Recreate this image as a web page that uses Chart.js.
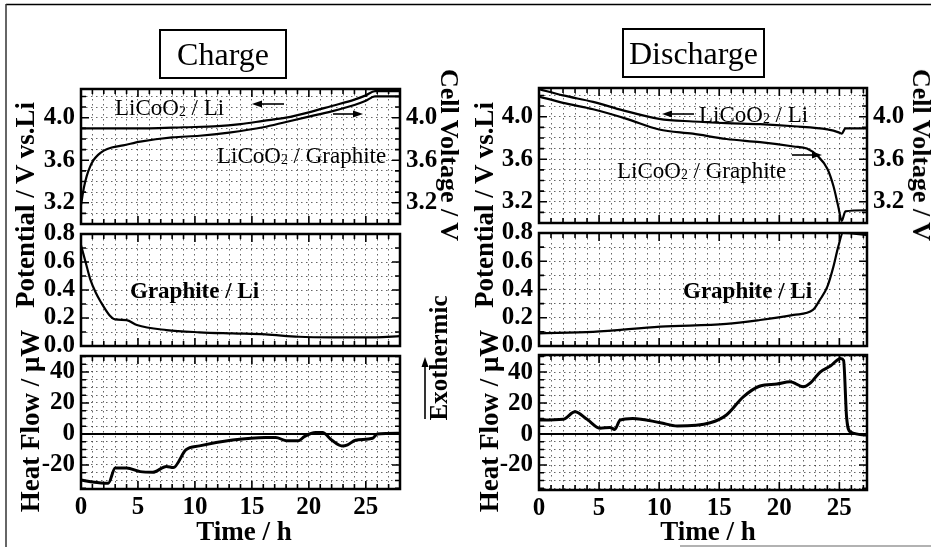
<!DOCTYPE html>
<html><head><meta charset="utf-8">
<script src="https://cdn.jsdelivr.net/npm/chart.js@4.4.1/dist/chart.umd.min.js"></script>
<style>
html,body{margin:0;padding:0;background:#fff;}
#wrap{position:relative;width:931px;height:547px;overflow:hidden;background:#fff;font-family:'Liberation Serif','Times New Roman',serif;color:#000;}
canvas{position:absolute;left:0;top:0;}
.t{position:absolute;white-space:nowrap;line-height:1;}
.box{position:absolute;border:2px solid #000;box-sizing:border-box;display:flex;align-items:center;justify-content:center;font-size:32px;line-height:1;}
sub{font-size:0.6em;vertical-align:-0.12em;line-height:0;}
svg{position:absolute;left:0;top:0;}
</style></head><body><div id="wrap">
<canvas id="c1" width="931" height="547"></canvas>
<canvas id="c2" width="931" height="547"></canvas>
<canvas id="c3" width="931" height="547"></canvas>
<canvas id="c4" width="931" height="547"></canvas>
<canvas id="c5" width="931" height="547"></canvas>
<canvas id="c6" width="931" height="547"></canvas>
</div>
<script>
// ---------- DATA ----------
// Charge: LiCoO2 / Li (left axis)
const chgCathodeT = [0, 3, 6, 9, 12, 14, 16, 18, 20, 22, 24, 25, 25.8, 26.5, 28];
const chgCathodeV = [3.90, 3.90, 3.90, 3.91, 3.92, 3.94, 3.97, 4.00, 4.05, 4.11, 4.17, 4.21, 4.25, 4.25, 4.25];
// Charge: LiCoO2 / Graphite cell voltage (right axis)
const chgCellT = [0, 0.25, 0.5, 0.8, 1.1, 1.5, 2.0, 2.7, 3.7, 5.2, 8, 10.4, 13, 16, 18, 20, 22, 24, 25, 25.8, 28];
const chgCellV = [3.18, 3.34, 3.45, 3.54, 3.60, 3.65, 3.69, 3.72, 3.74, 3.775, 3.815, 3.83, 3.86, 3.91, 3.96, 4.01, 4.06, 4.12, 4.16, 4.20, 4.20];
// Charge: Graphite / Li
const chgAnodeT = [0, 0.4, 0.8, 1.3, 1.7, 2.5, 3.0, 4.0, 4.9, 7.5, 10.4, 13.3, 16.2, 19.1, 22, 25.9, 28];
const chgAnodeV = [0.72, 0.60, 0.48, 0.38, 0.32, 0.22, 0.19, 0.185, 0.15, 0.114, 0.098, 0.09, 0.083, 0.066, 0.062, 0.062, 0.07];
// Charge: heat flow
const chgHeatT = [0, 1.0, 2.4, 3.0, 4.0, 5.2, 6.3, 7.5, 8.1, 9.2, 10.4, 13.3, 16.2, 17.1, 18.0, 19.1, 19.6, 20.6, 21.2, 22.0, 22.9, 23.4, 24.1, 25.6, 26.0, 28];
const chgHeatQ = [-29.7, -31, -31.8, -22, -22, -24.3, -24.7, -21, -21.7, -10.3, -7.7, -3.9, -2.2, -2.2, -4.3, -4.3, -1.7, 0.9, 0.9, -3.9, -7.7, -7, -4, -2.8, 0, 0.5];

// Discharge: LiCoO2 / Li
const disCathodeT = [0, 2, 4.5, 7, 10, 12.8, 15.6, 18.4, 21.2, 24, 25.0, 25.2, 25.5, 27.3];
const disCathodeV = [4.26, 4.20, 4.14, 4.06, 3.98, 3.955, 3.94, 3.93, 3.91, 3.88, 3.85, 3.84, 3.89, 3.89];
// Discharge: LiCoO2 / Graphite cell voltage
const disCellT = [0, 2, 4.5, 7.3, 10, 12.8, 15.6, 18.4, 21.2, 22.3, 23.2, 24, 24.5, 24.9, 25.2, 25.5, 27.3];
const disCellV = [4.19, 4.13, 4.07, 3.98, 3.88, 3.84, 3.79, 3.76, 3.72, 3.70, 3.63, 3.51, 3.35, 3.16, 3.02, 3.11, 3.12];
// Discharge: Graphite / Li
const disAnodeT = [0, 4.5, 10.1, 15.6, 18.4, 21.2, 22.8, 23.4, 24, 24.5, 24.9, 25.3, 27.3];
const disAnodeV = [0.09, 0.10, 0.137, 0.156, 0.184, 0.22, 0.255, 0.33, 0.42, 0.56, 0.70, 0.80, 0.785];
// Discharge: heat flow
const disHeatT = [0, 2, 3, 4, 5.1, 5.9, 6.3, 6.75, 7.8, 10.1, 11.5, 14.25, 15.6, 17, 18.4, 19.8, 20.9, 22, 22.6, 23.4, 24.25, 25.1, 25.35, 25.6, 25.9, 27.3];
const disHeatQ = [9, 9.5, 14.4, 9.5, 3.7, 4.3, 3.0, 9, 10.1, 7.3, 5.2, 7.3, 12.3, 24, 31, 32.3, 33.7, 30.5, 33, 40, 43.9, 48.8, 47.5, 11, 1.5, -0.6];

// Ticks / grids
const timeGridChg = [0,1,2,3,4,5,6,7,8,9,10,11,12,13,14,15,16,17,18,19,20,21,22,23,24,25,26,27,28];
const timeGridDis = [0,1,2,3,4,5,6,7,8,9,10,11,12,13,14,15,16,17,18,19,20,21,22,23,24,25,26,27];
const timeLabels = [0, 5, 10, 15, 20, 25];
const voltGrid = [3.1,3.2,3.3,3.4,3.5,3.6,3.7,3.8,3.9,4.0,4.1,4.2];
const voltLabels = [3.2, 3.6, 4.0];
const anodeGrid = [0,0.1,0.2,0.3,0.4,0.5,0.6,0.7,0.8];
const anodeLabels = [0, 0.2, 0.4, 0.6, 0.8];
const heatGrid = [-35,-30,-25,-20,-15,-10,-5,0,5,10,15,20,25,30,35,40,45,50];
const heatLabels = [-20, 0, 20, 40];

// ---------- DRAWING ----------
const W = 931, H = 547;
const GRID = 'rgba(0,0,0,0.6)';
const DASH = [1.5, 3.5];
const TICKFONT = {family: "'Liberation Serif', serif", size: 25, weight: 'bold'};
const has = (arr, v) => arr.some(a => Math.abs(a - v) < 1e-6);
const pts = (t, v) => t.map((x, i) => ({x: x, y: v[i]}));

const frameTicks = {
  id: 'frameTicks',
  beforeDatasetsDraw(chart, args, o) {
    if (!o.zero) return;
    const {ctx, chartArea: a, scales} = chart;
    const y = scales.y.getPixelForValue(0);
    ctx.save();
    ctx.strokeStyle = '#000'; ctx.lineWidth = 2;
    ctx.beginPath(); ctx.moveTo(a.left, y); ctx.lineTo(a.right, y); ctx.stroke();
    ctx.restore();
  },
  afterDraw(chart, args, o) {
    const {ctx, chartArea: a, scales} = chart;
    ctx.save();
    ctx.strokeStyle = '#000';
    ctx.lineWidth = 1.6;
    ctx.beginPath();
    scales.x.ticks.forEach(t => {
      const px = scales.x.getPixelForValue(t.value);
      const len = has(timeLabels, t.value) ? 8 : 5;
      ctx.moveTo(px, a.bottom); ctx.lineTo(px, a.bottom - len);
      ctx.moveTo(px, a.top); ctx.lineTo(px, a.top + len);
    });
    scales.y.ticks.forEach(t => {
      const py = scales.y.getPixelForValue(t.value);
      const len = has(o.major, t.value) ? 8 : 5;
      ctx.moveTo(a.left, py); ctx.lineTo(a.left + len, py);
      ctx.moveTo(a.right, py); ctx.lineTo(a.right - len, py);
    });
    ctx.stroke();
    ctx.lineWidth = 2.5;
    ctx.strokeRect(a.left, a.top, a.right - a.left, a.bottom - a.top);
    ctx.restore();
  }
};

function panel(id, o) {
  const fmt = v => has(o.yLabels, v) ? (o.dec ? v.toFixed(o.dec) : String(v)) : '';
  const scales = {
    x: {
      type: 'linear', min: 0, max: o.xMax, position: 'bottom',
      afterBuildTicks: s => { s.ticks = o.xGrid.map(v => ({value: v})); },
      afterFit: s => { s.height = H - o.B; },
      grid: {color: GRID, lineWidth: 1, drawTicks: false},
      border: {display: false, dash: DASH},
      ticks: {display: !!o.xLabels, padding: 4, font: TICKFONT, color: '#000', maxRotation: 0, autoSkip: false,
              callback: v => has(timeLabels, v) ? String(v) : ''}
    },
    y: {
      type: 'linear', min: o.yMin, max: o.yMax, position: 'left',
      afterBuildTicks: s => { s.ticks = o.yGrid.map(v => ({value: v})); },
      afterFit: s => { s.width = o.L; },
      grid: {color: GRID, lineWidth: 1, drawTicks: false},
      border: {display: false, dash: DASH},
      ticks: {padding: 6, font: TICKFONT, color: '#000', autoSkip: false, callback: fmt}
    }
  };
  if (o.y2) {
    scales.y2 = {
      type: 'linear', min: o.yMin, max: o.yMax, position: 'right',
      afterBuildTicks: s => { s.ticks = o.yGrid.map(v => ({value: v})); },
      afterFit: s => { s.width = W - o.R; },
      grid: {display: false, drawTicks: false},
      border: {display: false},
      ticks: {padding: 6, font: TICKFONT, color: '#000', autoSkip: false, callback: fmt}
    };
  }
  new Chart(document.getElementById(id), {
    type: 'line',
    data: {datasets: o.series.map(s => ({
      data: s.d, yAxisID: s.axis || 'y', borderColor: '#000', borderWidth: s.w || 2.2,
      pointRadius: 0, fill: false, cubicInterpolationMode: 'monotone'
    }))},
    options: {
      responsive: false, animation: false, events: [],
      layout: {padding: {left: 0, top: o.T, right: o.y2 ? 0 : W - o.R, bottom: 0}},
      scales: scales,
      plugins: {legend: {display: false}, tooltip: {enabled: false}, frameTicks: {zero: !!o.zero, major: o.yLabels}}
    },
    plugins: [frameTicks]
  });
}

panel('c1', {L: 81, T: 89, R: 400, B: 224, xMax: 28, xGrid: timeGridChg, yMin: 3.0, yMax: 4.27,
  yGrid: voltGrid, yLabels: voltLabels, dec: 1, y2: true,
  series: [{d: pts(chgCathodeT, chgCathodeV)}, {d: pts(chgCellT, chgCellV), axis: 'y2'}]});
panel('c2', {L: 81, T: 234, R: 400, B: 346, xMax: 28, xGrid: timeGridChg, yMin: 0, yMax: 0.8,
  yGrid: anodeGrid, yLabels: anodeLabels, dec: 1,
  series: [{d: pts(chgAnodeT, chgAnodeV)}]});
panel('c3', {L: 81, T: 356, R: 400, B: 489, xMax: 28, xGrid: timeGridChg, yMin: -35.5, yMax: 50.3,
  yGrid: heatGrid, yLabels: heatLabels, xLabels: true, zero: true,
  series: [{d: pts(chgHeatT, chgHeatQ), w: 3}]});
panel('c4', {L: 539, T: 88, R: 867, B: 223, xMax: 27.3, xGrid: timeGridDis, yMin: 3.0, yMax: 4.27,
  yGrid: voltGrid, yLabels: voltLabels, dec: 1, y2: true,
  series: [{d: pts(disCathodeT, disCathodeV)}, {d: pts(disCellT, disCellV), axis: 'y2'}]});
panel('c5', {L: 539, T: 233, R: 867, B: 346, xMax: 27.3, xGrid: timeGridDis, yMin: 0, yMax: 0.8,
  yGrid: anodeGrid, yLabels: anodeLabels, dec: 1,
  series: [{d: pts(disAnodeT, disAnodeV)}]});
panel('c6', {L: 539, T: 355, R: 867, B: 490, xMax: 27.3, xGrid: timeGridDis, yMin: -36.1, yMax: 51,
  yGrid: heatGrid, yLabels: heatLabels, xLabels: true, zero: true,
  series: [{d: pts(disHeatT, disHeatQ), w: 3}]});

// ---------- TEXT & DECORATION ----------
const wrap = document.getElementById('wrap');
function txt(html, x, y, o) {
  o = o || {};
  const d = document.createElement('div');
  d.className = 't';
  d.innerHTML = html;
  d.style.left = x + 'px';
  d.style.top = y + 'px';
  d.style.fontSize = (o.size || 23) + 'px';
  d.style.fontWeight = o.bold ? 'bold' : 'normal';
  const tx = o.align === 'left' ? '0' : '-50%';
  d.style.transform = 'translate(' + tx + ',-50%)' + (o.rot ? ' rotate(' + o.rot + 'deg)' : '');
  wrap.appendChild(d);
}
function box(label, l, t, w, h) {
  const d = document.createElement('div');
  d.className = 'box';
  d.textContent = label;
  d.style.left = l + 'px'; d.style.top = t + 'px';
  d.style.width = w + 'px'; d.style.height = h + 'px';
  wrap.appendChild(d);
}
box('Charge', 159, 29, 128, 50);
box('Discharge', 622, 28, 143, 50);

// axis titles
txt('Potential / V vs.Li', 25, 205, {size: 27, bold: true, rot: -90});
txt('Heat Flow / μW', 30, 421, {size: 27, bold: true, rot: -90});
txt('Potential / V vs.Li', 484, 205, {size: 27, bold: true, rot: -90});
txt('Heat Flow / μW', 489, 421, {size: 27, bold: true, rot: -90});
txt('Cell Voltage / V', 449, 155, {size: 26, bold: true, rot: 90});
txt('Cell Voltage / V', 921, 155, {size: 26, bold: true, rot: 90});
txt('Time / h', 244, 531, {size: 27, bold: true});
txt('Time / h', 708, 531, {size: 27, bold: true});
txt('Exothermic', 438, 358, {size: 25, bold: true, rot: -90});

// curve annotations
txt('LiCoO<sub>2</sub> / Li', 115, 107, {align: 'left'});
txt('LiCoO<sub>2</sub> / Graphite', 217, 155, {align: 'left'});
txt('Graphite / Li', 130, 290, {align: 'left', bold: true});
txt('LiCoO<sub>2</sub> / Li', 699, 114, {align: 'left'});
txt('LiCoO<sub>2</sub> / Graphite', 617, 170, {align: 'left'});
txt('Graphite / Li', 683, 290, {align: 'left', bold: true});

// arrows + figure border
const NS = 'http://www.w3.org/2000/svg';
const svg = document.createElementNS(NS, 'svg');
svg.setAttribute('width', W); svg.setAttribute('height', H);
function line(x1, y1, x2, y2, w, c) {
  const l = document.createElementNS(NS, 'line');
  l.setAttribute('x1', x1); l.setAttribute('y1', y1); l.setAttribute('x2', x2); l.setAttribute('y2', y2);
  l.setAttribute('stroke', c || '#000'); l.setAttribute('stroke-width', w);
  svg.appendChild(l);
}
function arrow(x1, y1, x2, y2) {
  const a = Math.atan2(y2 - y1, x2 - x1), hl = 10, hw = 3.5;
  const bx = x2 - hl * Math.cos(a), by = y2 - hl * Math.sin(a);
  line(x1, y1, bx, by, 1.6);
  const p = document.createElementNS(NS, 'polygon');
  p.setAttribute('points', [x2, y2, bx + hw * Math.sin(a), by - hw * Math.cos(a), bx - hw * Math.sin(a), by + hw * Math.cos(a)].join(','));
  p.setAttribute('fill', '#000');
  svg.appendChild(p);
}
arrow(284, 104, 252, 104);
arrow(333, 114, 363, 114);
arrow(694, 114, 662, 114);
arrow(792, 155, 822, 155);
arrow(425, 419, 425, 357);
line(6, 4.5, 931, 4.5, 1.5);
line(6, 4, 6, 547, 1.5, '#333');
line(680, 546, 931, 546, 1.2, '#666');
wrap.appendChild(svg);
</script>
</body></html>
